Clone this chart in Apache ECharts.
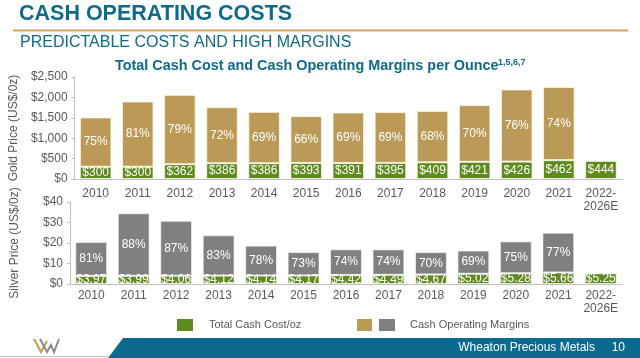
<!DOCTYPE html>
<html><head><meta charset="utf-8">
<script src="https://cdn.jsdelivr.net/npm/echarts@6/dist/echarts.min.js"></script>
<style>html,body{margin:0;padding:0;background:#fff}#c{width:640px;height:358px}</style>
</head><body><div id="c"></div>
<script>
var categories = ['2010','2011','2012','2013','2014','2015','2016','2017','2018','2019','2020','2021','2022-\n2026E'];
var goldCost = [300,300,362,386,386,393,391,395,409,421,426,462,444];
var goldMargin = [1210,1600,1700,1375,1260,1150,1240,1250,1260,1390,1770,1795,null];
var goldMarginPct = ['75%','81%','79%','72%','69%','66%','69%','69%','68%','70%','76%','74%',''];
var silverCost = [3.97,3.99,4.06,4.12,4.14,4.17,4.42,4.49,4.67,5.02,5.28,5.66,5.25];
var silverMargin = [16.5,30.5,26.8,19.6,14.6,11.4,12.5,12.4,10.9,11.3,15.5,19.4,null];
var silverMarginPct = ['81%','88%','87%','83%','78%','73%','74%','74%','70%','69%','75%','77%',''];
var goldTicks = [0,500,1000,1500,2000,2500];
var silverTicks = [0,10,20,30,40];

var GREEN='#5f8a1e', TAN='#bb9a58', GRAY='#808080', TEAL='#0e6a8b', TXT='#595959', AX='#bfbfbf';
var ff = 'Liberation Sans, Arial, sans-serif';

var chart = echarts.init(document.getElementById('c'), null, {renderer:'canvas'});
function xAxis(gi, margin){
  return {type:'category', gridIndex:gi, data:categories,
    axisLine:{lineStyle:{color:AX}}, axisTick:{length:4,lineStyle:{color:AX}},
    axisLabel:{color:TXT, fontSize:12, fontFamily:ff, margin:margin, lineHeight:13, interval:0}};
}
function yAxis(gi, max, interval, name, fmt){
  return {type:'value', gridIndex:gi, min:0, max:max, interval:interval,
    name:name, nameLocation:'middle', nameGap:49,
    nameTextStyle:{color:TXT, fontSize:12, fontFamily:ff},
    axisLine:{show:true, lineStyle:{color:AX}}, axisTick:{show:true, length:3, lineStyle:{color:AX}},
    splitLine:{show:false},
    axisLabel:{color:TXT, fontSize:12, fontFamily:ff, margin:7, formatter:fmt}};
}
var bw = '75%';
var lbl = {show:true, position:'inside', color:'#fff', fontSize:12, fontFamily:ff};
chart.setOption({
  animation:false,
  grid:[{left:70, right:18, top:77, height:102},{left:70, right:18, top:202, height:82}],
  xAxis:[xAxis(0,8), xAxis(1,5)],
  yAxis:[yAxis(0,2500,500,'Gold Price (US$/0z)', function(v){return '$'+v.toLocaleString('en-US');}),
         yAxis(1,40,10,'Silver Price (US$/0z)', function(v){return '$'+v;})],
  series:[
    {type:'bar', xAxisIndex:0, yAxisIndex:0, stack:'g', data:goldCost, barWidth:bw,
     itemStyle:{color:GREEN, borderColor:'rgba(255,255,255,0.7)', borderWidth:1},
     label:Object.assign({}, lbl, {formatter:function(p){return '$'+p.value;}})},
    {type:'bar', xAxisIndex:0, yAxisIndex:0, stack:'g', data:goldMargin, barWidth:bw,
     itemStyle:{color:TAN, borderColor:'rgba(255,250,235,0.8)', borderWidth:1},
     label:Object.assign({}, lbl, {formatter:function(p){return goldMarginPct[p.dataIndex];}})},
    {type:'bar', xAxisIndex:1, yAxisIndex:1, stack:'s', data:silverCost, barWidth:bw,
     itemStyle:{color:GREEN, borderColor:'rgba(255,255,255,0.7)', borderWidth:1},
     label:Object.assign({}, lbl, {formatter:function(p){return '$'+p.value.toFixed(2);}})},
    {type:'bar', xAxisIndex:1, yAxisIndex:1, stack:'s', data:silverMargin, barWidth:bw,
     itemStyle:{color:GRAY, borderColor:'rgba(255,255,255,0.6)', borderWidth:1},
     label:Object.assign({}, lbl, {formatter:function(p){return silverMarginPct[p.dataIndex];}})}
  ],
  graphic:[
    {type:'text', left:19, top:3, style:{text:'CASH OPERATING COSTS', fill:TEAL, font:'bold 21.5px '+ff}},
    {type:'line', shape:{x1:13,y1:30.5,x2:628,y2:30.5}, style:{stroke:'#d3a457', lineWidth:2}},
    {type:'text', left:20, top:35, style:{text:'PREDICTABLE COSTS AND HIGH MARGINS', fill:TEAL, font:'16px '+ff}},
    {type:'text', left:115, top:59, style:{text:'Total Cash Cost and Cash Operating Margins per Ounce', fill:TEAL, font:'bold 14.4px '+ff}},
    {type:'text', left:498, top:58, style:{text:'1,5,6,7', fill:TEAL, font:'bold 9px '+ff}},
    {type:'rect', shape:{x:177,y:319,width:16,height:12}, style:{fill:GREEN}},
    {type:'text', left:209, top:319, style:{text:'Total Cash Cost/oz', fill:TXT, font:'11px '+ff}},
    {type:'rect', shape:{x:357,y:319,width:15,height:12}, style:{fill:TAN}},
    {type:'rect', shape:{x:379,y:319,width:16,height:12}, style:{fill:GRAY}},
    {type:'text', left:410, top:319, style:{text:'Cash Operating Margins', fill:TXT, font:'11px '+ff}},
    {type:'polygon', shape:{points:[[123,338],[640,338],[640,358],[108,358]]}, style:{fill:'#0b6a8d'}},
    {type:'line', shape:{x1:0,y1:356.5,x2:108,y2:356.5}, style:{stroke:'#bfbfbf', lineWidth:1}},
    {type:'text', right:45, top:342, style:{text:'Wheaton Precious Metals', fill:'#fff', font:'12px '+ff}},
    {type:'text', right:15, top:342, style:{text:'10', fill:'#fff', font:'12px '+ff}},
    {type:'polyline', shape:{points:[[34,339],[41,352],[47,341]]}, style:{stroke:'#c9a04e', lineWidth:2.2, fill:null}},
    {type:'polyline', shape:{points:[[40,339],[47,352],[51,345],[54,352],[59,339]]}, style:{stroke:'#8a8a8a', lineWidth:2, fill:null}}
  ]
});
</script></body></html>
